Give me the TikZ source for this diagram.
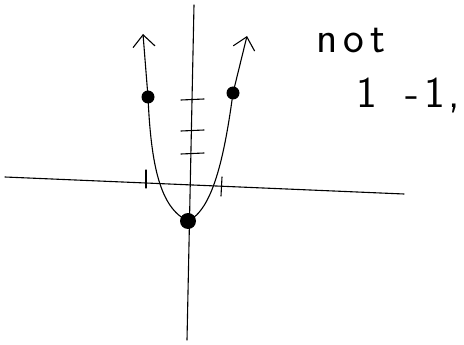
\documentclass[tikz,border=0pt]{standalone}
\usepackage{amsmath,amssymb}
\usetikzlibrary{arrows.meta,positioning,calc}
\begin{document}
\begin{tikzpicture}[x=1pt,y=-1pt, line width=1.1pt, line cap=round,
  pt/.style={circle, fill=black, inner sep=0pt, minimum width=13pt, minimum height=11pt},
  hand/.style={font=\fontsize{44}{44}\selectfont\sffamily, inner sep=0pt}]
\useasboundingbox (0,0) rectangle (464,345);
% axes
\coordinate (ytop) at (194,5);
\coordinate (ybot) at (187,340);
\coordinate (xl) at (5,177);
\coordinate (xr) at (404,194);
\draw (ytop) -- (ybot);
\draw (xl) -- (xr);
% ticks
\foreach \y in {100,131,154} {
  \draw (181,\y) -- (204,\y-1);
}
\draw (146,170) -- (146,188);
\draw (222,177) -- (221,196);
% points
\node[pt] (lpt) at (148,97) {};
\node[pt] (rpt) at (233,93) {};
\node[pt, minimum width=16pt] (vpt) at (188,221) {};
% parabola
\coordinate (ltip) at (143,34);
\coordinate (rtip) at (247,36);
\draw[{Straight Barb[length=12pt,width=22pt]}-{Straight Barb[length=12pt,width=22pt]}]
  (ltip) -- (lpt.center) .. controls (151,165) and (160,208) .. (vpt.center)
  .. controls (212,210) and (224,160) .. (rpt.center) -- (rtip);
% text
\node[hand, anchor=base west] (nottext) at (316,53) {n\hspace{6pt}o\hspace{6pt}t};
\node[hand, anchor=base west] (oneone) at (356,108) {1\hspace{28pt}-\hspace{6pt}1\hspace{3pt},};
\end{tikzpicture}
\end{document}
